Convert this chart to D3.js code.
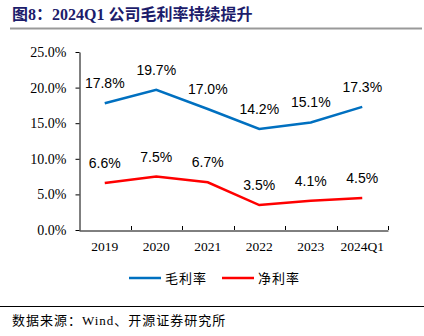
<!DOCTYPE html>
<html><head><meta charset="utf-8">
<script src="https://cdn.jsdelivr.net/npm/d3@7"></script>
<style>body{margin:0;background:#fff}</style>
</head><body>
<svg id="c" width="424" height="336"></svg>
<script>
const categories = ["2019","2020","2021","2022","2023","2024Q1"];
const grossMargin = [17.8,19.7,17.0,14.2,15.1,17.3];
const netMargin = [6.6,7.5,6.7,3.5,4.1,4.5];
const yTicks = [0,5,10,15,20,25];
const seriesNames = ["毛利率","净利率"];
const seriesColors = ["#0070C0","#FF0000"];

const svg = d3.select("#c");
const serif = "'Liberation Serif','Times New Roman',serif";
const cjk = "'Noto Sans CJK SC',sans-serif";

// title
svg.append("text").attr("x",12).attr("y",20)
  .attr("font-size",16).attr("font-weight","bold").attr("fill","#1C1C6B")
  .attr("font-family",serif+","+cjk)
  .text("图8：2024Q1 公司毛利率持续提升");
svg.append("line").attr("x1",10).attr("x2",422).attr("y1",28.5).attr("y2",28.5)
  .attr("stroke","#999").attr("stroke-width",2);

const x = d3.scaleBand().domain(categories).range([79,388]);
const y = d3.scaleLinear().domain([0,25]).range([230,52]);

// y axis
const yAxis = d3.axisLeft(y).tickValues(yTicks).tickFormat(d=>d.toFixed(1)+"%").tickSize(4).tickSizeOuter(0);
const gy = svg.append("g").attr("transform","translate(79.5,0)").call(yAxis);
gy.select(".domain").attr("stroke","#000");
gy.selectAll(".tick line").attr("stroke","#000");
gy.selectAll("text").attr("font-family",serif).attr("font-size",14).attr("fill","#000").attr("x",-13);

// x axis
const xAxis = d3.axisBottom(x).tickSize(0).tickSizeOuter(0);
const gx = svg.append("g").attr("transform","translate(0,230.5)").call(xAxis);
gx.select(".domain").attr("stroke","#000");
gx.selectAll("text").attr("font-family",serif).attr("font-size",13.5).attr("fill","#000").attr("dy","1.3em");
// inward boundary ticks
const bounds = categories.map(c=>x(c)+x.bandwidth());
svg.append("g").selectAll("line").data(bounds).join("line")
  .attr("x1",d=>Math.round(d)+0.5).attr("x2",d=>Math.round(d)+0.5)
  .attr("y1",226).attr("y2",230).attr("stroke","#000");

const line = d3.line().x((d,i)=>x(categories[i])+x.bandwidth()/2).y(d=>y(d));
[grossMargin, netMargin].forEach((s,k)=>{
  svg.append("path").datum(s).attr("d",line).attr("fill","none")
    .attr("stroke",seriesColors[k]).attr("stroke-width",2.5);
  svg.append("g").selectAll("text").data(s).join("text")
    .attr("x",(d,i)=>x(categories[i])+x.bandwidth()/2)
    .attr("y",d=>y(d)-15)
    .attr("text-anchor","middle").attr("font-size",14)
    .attr("font-family","'Liberation Sans',Arial,sans-serif").attr("fill","#000")
    .text(d=>d.toFixed(1)+"%");
});

// legend
const lg = svg.append("g");
const lx = [129,222];
seriesNames.forEach((n,k)=>{
  lg.append("line").attr("x1",lx[k]).attr("x2",lx[k]+32).attr("y1",278).attr("y2",278)
    .attr("stroke",seriesColors[k]).attr("stroke-width",2.5);
  lg.append("text").attr("x",lx[k]+36).attr("y",283).attr("font-size",13)
    .attr("font-family",cjk).attr("letter-spacing",1).attr("fill","#000").text(n);
});

svg.append("line").attr("x1",0).attr("x2",424).attr("y1",306.5).attr("y2",306.5)
  .attr("stroke","#000").attr("stroke-width",1);
svg.append("text").attr("x",12).attr("y",325).attr("font-size",13)
  .attr("font-family",serif+","+cjk).attr("letter-spacing",1).attr("fill","#000")
  .text("数据来源：Wind、开源证券研究所");
</script>
</body></html>
